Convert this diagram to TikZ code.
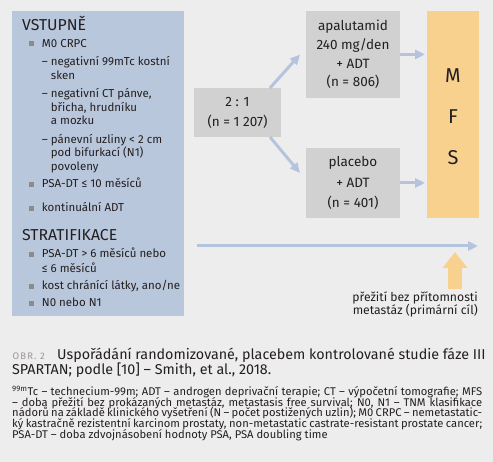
\documentclass[tikz,border=0pt]{standalone}
\usepackage{fontspec}
\setmainfont{Fira Sans}
\usetikzlibrary{arrows.meta}
\definecolor{pagegray}{HTML}{EEEDED}
\definecolor{entryblue}{HTML}{B9C7DC}
\definecolor{armgray}{HTML}{D1D1D1}
\definecolor{mfsorange}{HTML}{F9D18F}
\definecolor{flowblue}{HTML}{B4C4DD}
\definecolor{dotgray}{HTML}{8E8A8A}
\definecolor{ink}{HTML}{231F20}
\definecolor{labelgray}{HTML}{9A9696}
\begin{document}
\begin{tikzpicture}[x=1pt,y=-1pt,text=ink,font=\fontsize{11.5}{13}\selectfont]

      \useasboundingbox[fill=pagegray] (0,0) rectangle (493,462);

      \begin{scope}[every node/.style={inner sep=0, outer sep=0}]
        \node[fill=entryblue, minimum width=172, minimum height=305] (entry) at (98,163.5) {};
        \node[fill=armgray, minimum width=87, minimum height=49, align=center,
              font=\fontsize{13.5}{20}\selectfont] (ratio) at (237.5,112.5) {2 : 1\\(n = 1 207)};
        \node[fill=armgray, minimum width=94, minimum height=87, align=center,
              font=\fontsize{13.5}{18.7}\selectfont] (arm1) at (353,54.5) {apalutamid\\240 mg/den\\+ ADT\\(n = 806)};
        \node[fill=armgray, minimum width=94, minimum height=70, align=center,
              font=\fontsize{13.5}{20.3}\selectfont] (arm2) at (353,183) {placebo\\+ ADT\\(n = 401)};
        \node[fill=mfsorange, minimum width=52, minimum height=207] (mfs) at (453,114.5) {};
        \node[align=center, font=\fontsize{20}{41}\selectfont] (mfstext) at (453,117) {M\\F\\S};
      \end{scope}

      \begin{scope}[every node/.style={anchor=base west, inner sep=0}]
        \node[font=\fontsize{15.8}{17}\selectfont] (in)   at (22,30.7)  {VSTUPNĚ};
        \node (l1)  at (41.7,48)  {M0 CRPC};
        \node (l2)  at (41.7,66)  {– negativní 99mTc kostní};
        \node (l3)  at (50.7,79.5)  {sken};
        \node (l4)  at (41.7,98)  {– negativní CT pánve,};
        \node (l5)  at (50.7,111.5) {břicha, hrudníku};
        \node (l6)  at (50.7,125) {a mozku};
        \node (l7)  at (41.7,143.5) {– pánevní uzliny < 2 cm};
        \node (l8)  at (50.7,157) {pod bifurkací (N1)};
        \node (l9)  at (50.7,170.5) {povoleny};
        \node (l10) at (41.7,188) {PSA-DT ≤ 10 měsíců};
        \node (l11) at (41.7,212) {kontinuální ADT};
        \node[font=\fontsize{15.8}{17}\selectfont] (st)   at (22,241) {STRATIFIKACE};
        \node (s1)  at (41.7,258) {PSA-DT > 6 měsíců nebo};
        \node (s2)  at (41.7,272.5) {≤ 6 měsíců};
        \node (s3)  at (41.7,290) {kost chránící látky, ano/ne};
        \node (s4)  at (41.7,307) {N0 nebo N1};
      \end{scope}

      \begin{scope}[every node/.style={fill=dotgray, minimum size=4.5, inner sep=0}]
        \node (d1)  at (31.3,43.7)  {};
        \node (d2)  at (31.3,184.3) {};
        \node (d3)  at (31.3,208.5) {};
        \node (d4)  at (31.3,254.7) {};
        \node (d5)  at (31.3,286.3) {};
        \node (d6)  at (31.3,303.7) {};
      \end{scope}

      % arrows
      \begin{scope}[every path/.style={draw=flowblue, line width=3, -{Triangle[length=10,width=9]}}]
        \path ([xshift=-11]ratio.north east) -- ([xshift=-6]arm1.west);
        \path ([xshift=-11]ratio.south east) -- ([shift={(-6,25)}]arm2.north west);
        \path (arm1.east) -- ([xshift=-2]mfs.west |- arm1.east);
        \path (arm2.east) -- ([xshift=-2]mfs.west |- arm2.east);
        \coordinate (t0) at (197,246);
        \coordinate (t1) at (478,246);
        \path (t0) -- (t1);
      \end{scope}

      \coordinate (g0) at (455,289);
      \coordinate (g1) at (455,252);
      \draw[mfsorange, line width=14, -{Triangle[length=16,width=24]}] (g0) -- (g1);
      \begin{scope}[every node/.style={anchor=base east, inner sep=0, font=\fontsize{12.2}{13}\selectfont}]
        \node (goal)  at (478,301.7) {přežití bez přítomnosti};
        \node (goal2) at (478,314.7) {metastáz (primární cíl)};
      \end{scope}

      % caption
      \begin{scope}[every node/.style={anchor=base west, inner sep=0}]
        \node[text=labelgray, font=\fontsize{9.5}{11}\selectfont\addfontfeatures{LetterSpace=12}] (obr) at (12.5,359.5) {OBR. 2};
        \node[font=\fontsize{14.3}{18}\selectfont] (title) at (57,359.5)
          {Uspořádání randomizované, placebem kontrolované studie fáze III};
        \node[font=\fontsize{14.3}{18}\selectfont] (title2) at (12,375)
          {SPARTAN; podle [10] – Smith, et al., 2018.};
      \end{scope}

      \begin{scope}[every node/.style={anchor=base west, inner sep=0,
                    font=\fontsize{11.2}{10.7}\selectfont}]
        \node (n1) at (12,395.5) {\makebox[470pt][s]{\textsuperscript{99m}Tc – technecium-99m; ADT – androgen deprivační terapie; CT – výpočetní tomografie; MFS}};
        \node (n2) at (12,406.2) {\makebox[470pt][s]{– doba přežití bez prokázaných metastáz, metastasis free survival; N0, N1 – TNM klasifikace}};
        \node (n3) at (12,416.9) {\makebox[470pt][s]{nádorů na základě klinického vyšetření (N – počet postižených uzlin); M0 CRPC – nemetastatic-}};
        \node (n4) at (12,427.6) {\makebox[470pt][s]{ký kastračně rezistentní karcinom prostaty, non-metastatic castrate-resistant prostate cancer;}};
        \node (n5) at (12,438.3) {PSA-DT – doba zdvojnásobení hodnoty PSA, PSA doubling time};
      \end{scope}

    \end{tikzpicture}
\end{document}
